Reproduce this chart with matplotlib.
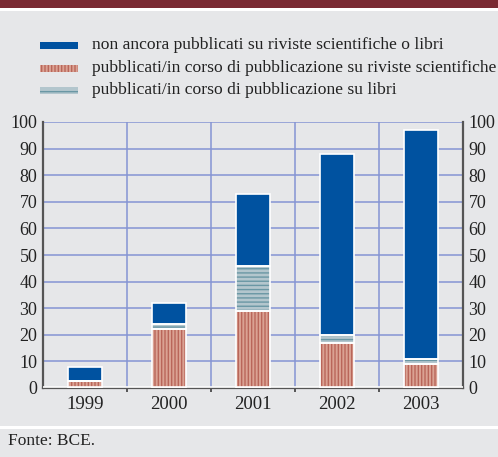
import matplotlib.pyplot as plt
from matplotlib.patches import Rectangle
import numpy as np

plt.rcParams['font.family'] = ['Liberation Serif', 'DejaVu Serif']
plt.rcParams['hatch.linewidth'] = 1.0

# --- data ---
years = ['1999', '2000', '2001', '2002', '2003']
riviste = [2.5, 22, 29, 17, 9]          # pubblicati su riviste scientifiche
libri = [0, 2, 17, 3, 2]                # pubblicati su libri
non_pubblicati = [5.5, 8, 27, 68, 86]   # non ancora pubblicati
legend_labels = [
    'non ancora pubblicati su riviste scientifiche o libri',
    'pubblicati/in corso di pubblicazione su riviste scientifiche',
    'pubblicati/in corso di pubblicazione su libri',
]
yticks = list(range(0, 101, 10))
source = 'Fonte: BCE.'

BG = '#e6e7e9'
BLUE = '#0052a0'
RED_FACE, RED_LINE = '#daa293', '#b9665a'
TEAL_FACE, TEAL_LINE = '#b3c6cd', '#6a97a4'
GRID = '#8594d4'
SPINE = '#555555'
TXT = '#222222'

W, H = 498, 457
fig = plt.figure(figsize=(W / 100, H / 100), dpi=100, facecolor=BG)

# header band and separators
fig.patches.append(Rectangle((0, 1 - 8 / H), 1, 8 / H, transform=fig.transFigure,
                             facecolor='#7a2a33', edgecolor='none'))
fig.patches.append(Rectangle((0, 1 - 11 / H), 1, 2.5 / H, transform=fig.transFigure,
                             facecolor='white', edgecolor='none'))
fig.patches.append(Rectangle((0, 1 - 429 / H), 1, 3 / H, transform=fig.transFigure,
                             facecolor='white', edgecolor='none'))

ax = fig.add_axes([43 / W, 69 / H, 420 / W, 266 / H])
ax.set_facecolor(BG)
x = np.arange(len(years))
bw = 0.4

bottom2 = np.array(riviste)
bottom3 = bottom2 + np.array(libri)
ax.bar(x, riviste, bw, color=RED_FACE, edgecolor=RED_LINE, hatch='|||||', lw=0, zorder=3)
ax.bar(x, libri, bw, bottom=bottom2, color=TEAL_FACE, edgecolor=TEAL_LINE, hatch='----', lw=0, zorder=3)
ax.bar(x, non_pubblicati, bw, bottom=bottom3, color=BLUE, lw=0, zorder=3)
# white outlines around each segment
for vals, bot in [(riviste, 0), (libri, bottom2), (non_pubblicati, bottom3)]:
    ax.bar(x, vals, bw, bottom=bot, fill=False, edgecolor='white', lw=1.2, zorder=4)

ax.set_xlim(-0.5, len(years) - 0.5)
ax.set_ylim(0, 100)
ax.set_yticks(yticks)
ax.set_xticks(x)
ax.set_xticklabels(years, fontsize=13.5, color=TXT)
ax.tick_params(axis='x', length=0, pad=6)
ax.tick_params(axis='y', length=0, labelsize=13, pad=4, labelcolor=TXT,
               labelright=True, right=False)
ax.set_xticks(x[:-1] + 0.5, minor=True)
ax.tick_params(axis='x', which='minor', direction='out', length=3, color=SPINE, width=1.4)

for yv in yticks[1:]:
    ax.axhline(yv, color=GRID, lw=1.1, zorder=1)
for xv in x[:-1] + 0.5:
    ax.axvline(xv, color=GRID, lw=1.1, zorder=1)

ax.spines['top'].set_visible(False)
for side in ['left', 'right', 'bottom']:
    ax.spines[side].set_color(SPINE)
    ax.spines[side].set_linewidth(1.6)
ax.axhline(0.4, color='white', lw=1.2, zorder=5)

# legend drawn by hand
rows_y = [45, 68, 90]
styles = [
    dict(facecolor=BLUE, edgecolor='none'),
    dict(facecolor=RED_FACE, edgecolor=RED_LINE, hatch='|||||', lw=0),
    dict(facecolor=TEAL_FACE, edgecolor=TEAL_LINE, hatch='---', lw=0),
]
for yy, st, lab in zip(rows_y, styles, legend_labels):
    fig.patches.append(Rectangle((40 / W, 1 - (yy + 3.5) / H), 38 / W, 7 / H,
                                 transform=fig.transFigure, **st))
    fig.text(92 / W, 1 - yy / H, lab, fontsize=12.6, va='center', ha='left', color=TXT)

fig.text(8 / W, 1 - 441 / H, source, fontsize=12.5, va='center', ha='left', color=TXT)

fig.savefig('out.png', dpi=100, facecolor=BG)
